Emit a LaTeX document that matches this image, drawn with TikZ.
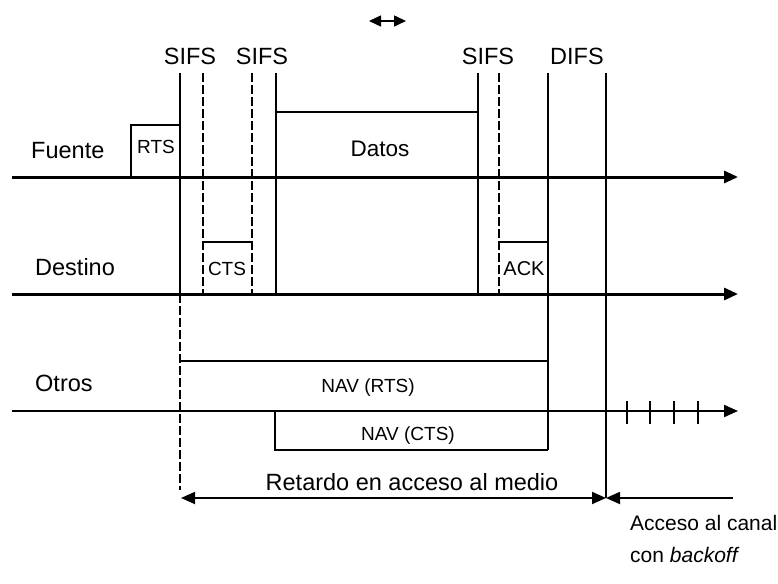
\documentclass[tikz,border=0pt]{standalone}
\usepackage{fontspec}
\setmainfont{Liberation Sans}
\usetikzlibrary{arrows.meta}
\begin{document}
\begin{tikzpicture}[x=1pt,y=-1pt,
  axis/.style={line width=3pt,-{Triangle[length=14pt,width=12pt]}},
  axisthin/.style={line width=2pt,-{Triangle[length=14pt,width=12pt]}},
  frame/.style={line width=2.2pt},
  vsolid/.style={line width=1.8pt},
  vthin/.style={line width=1.3pt},
  vdash/.style={line width=1.8pt,dash pattern=on 9pt off 3pt},
  lbl/.style={font=\fontsize{23.5}{26}\selectfont, inner sep=0pt, anchor=base},
  lblw/.style={font=\fontsize{23.5}{26}\selectfont, inner sep=0pt, anchor=base west},
  small/.style={font=\fontsize{19}{21}\selectfont, inner sep=0pt, anchor=base},
  note/.style={font=\fontsize{21}{24}\selectfont, inner sep=0pt, anchor=base west},
  tick/.style={line width=1.8pt}
  ]
\useasboundingbox (0,0) rectangle (778,583);

% axes
\coordinate (F0) at (12,177);  \coordinate (F1) at (738,177);
\coordinate (D0) at (12,294);  \coordinate (D1) at (738,294);
\coordinate (O0) at (12,411);  \coordinate (O1) at (738,411);
\draw[axis] (F0) -- (F1);
\draw[axis] (D0) -- (D1);
\draw[axisthin] (O0) -- (O1);

% vertical markers
\draw[vsolid] (180,73) -- (180,294);
\draw[vdash] (180,294) -- (180,490);
\draw[vdash] (203,73) -- (203,294);
\draw[vdash] (252,73) -- (252,294);
\draw[vsolid] (276,73) -- (276,294);
\draw[vsolid] (478,73) -- (478,294);
\draw[vdash] (499,73) -- (499,294);
\draw[vsolid] (548,73) -- (548,450);
\draw[vthin] (606,73) -- (606,498);

% frames
\draw[frame] (131,177) -- (131,125) -- (180,125);
\draw[frame] (276,112) -- (478,112);
\draw[frame] (203,242) -- (252,242);
\draw[frame] (499,242) -- (548,242);
\draw[frame] (180,361) -- (548,361);
\draw[frame] (275,411) -- (275,450) -- (548,450);

% small double arrow at top
\coordinate (tA) at (369,21); \coordinate (tB) at (406,21);
\draw[line width=1.5pt,{Triangle[length=12pt,width=11pt]}-{Triangle[length=12pt,width=11pt]}] (tA) -- (tB);

% delay arrows
\coordinate (r0) at (181,498); \coordinate (r1) at (606,498); \coordinate (r2) at (733,498);
\draw[line width=1.8pt,{Triangle[length=14pt,width=12pt]}-{Triangle[length=14pt,width=12pt]}] (r0) -- (r1);
\draw[line width=1.8pt,{Triangle[length=14pt,width=12pt]}-] (r1) -- (r2);

% backoff ticks
\foreach \x in {627,650,674,698} \draw[tick] (\x,401) -- (\x,424);

% labels
\node[lbl] (s1) at (190,65) {SIFS};
\node[lbl] (s2) at (262,65) {SIFS};
\node[lbl] (s3) at (488,65) {SIFS};
\node[lbl] (d1) at (577,65) {DIFS};
\node[lblw] (fu) at (31,158) {Fuente};
\node[lblw] (de) at (35,275) {Destino};
\node[lblw] (ot) at (35,391) {Otros};
\node[small] (rts) at (156,153) {RTS};
\node[lbl, font=\fontsize{22.5}{25}\selectfont] (dat) at (380,156) {Datos};
\node[small] (cts) at (227,275) {CTS};
\node[small, font=\fontsize{20}{22}\selectfont] (ack) at (524,275) {ACK};
\node[small] (navr) at (368,392) {NAV (RTS)};
\node[small] (navc) at (408,440) {NAV (CTS)};
\node[lbl] (ret) at (412,490) {Retardo en acceso al medio};
\node[note] (acc) at (630,530) {Acceso al canal};
\node[note] (bck) at (630,562) {con \textit{backoff}};
\end{tikzpicture}
\end{document}
